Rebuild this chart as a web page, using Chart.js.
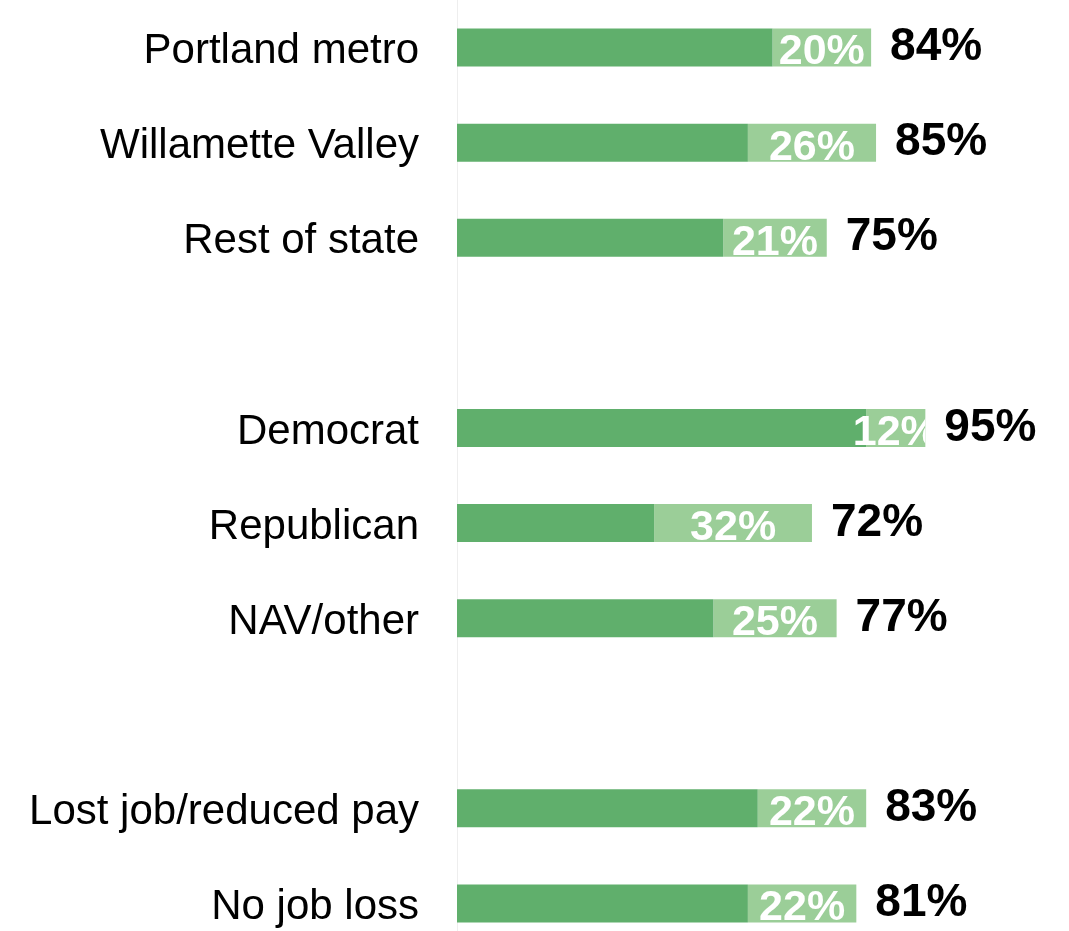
<!DOCTYPE html>
<html>
<head>
<meta charset="utf-8">
<script src="https://cdn.jsdelivr.net/npm/chart.js@4.4.0/dist/chart.umd.min.js"></script>
<style>
  html, body { margin: 0; padding: 0; background: #fff; overflow: hidden; }
  #wrap { width: 1069px; height: 951px; position: relative; }
</style>
</head>
<body>
<div id="wrap"><canvas id="chart"></canvas></div>
<script>
const categories = ["Portland metro", "Willamette Valley", "Rest of state", "",
    "Democrat", "Republican", "NAV/other", "",
    "Lost job/reduced pay", "No job loss"];
const totals = [84, 85, 75, null, 95, 72, 77, null, 83, 81];
const lightShare = [20, 26, 21, null, 12, 32, 25, null, 22, 22];

const darkShare = totals.map((t, i) => t == null ? null : t - lightShare[i]);

const ctx = document.getElementById("chart").getContext("2d");

const labelPlugin = {
    id: "barLabels",
    afterDatasetsDraw(chart) {
        let c = chart.ctx;
        let metaLight = chart.getDatasetMeta(1);
        metaLight.data.forEach((bar, i) => {
            if (totals[i] == null) return;
            let top = bar.y - bar.height / 2;
            let left = bar.base;
            let right = bar.x;

            // white share label, centered on the light part and clipped to the bar
            c.save();
            c.beginPath();
            c.rect(chart.chartArea.left, top, right - chart.chartArea.left, bar.height);
            c.clip();
            c.fillStyle = "#ffffff";
            c.font = "bold 43px 'Liberation Sans', Arial, sans-serif";
            c.textAlign = "center";
            c.textBaseline = "middle";
            c.fillText(lightShare[i] + "%", (left + right) / 2, bar.y + 5);
            c.restore();

            // total label
            c.save();
            c.fillStyle = "#000000";
            c.font = "bold 46px 'Liberation Sans', Arial, sans-serif";
            c.textAlign = "left";
            c.textBaseline = "middle";
            c.fillText(totals[i] + "%", right + 19, bar.y);
            c.restore();
        });
    }
};

new Chart(ctx, {
    type: "bar",
    data: {
        labels: categories,
        datasets: [
            { data: darkShare, backgroundColor: "#60af6c", barPercentage: 0.4, categoryPercentage: 1 },
            { data: lightShare, backgroundColor: "#9bce98", barPercentage: 0.4, categoryPercentage: 1 }
        ]
    },
    options: {
        indexAxis: "y",
        responsive: true,
        maintainAspectRatio: false,
        animation: false,
        layout: { padding: { left: 0, right: 119, top: 0, bottom: 0 } },
        plugins: { legend: { display: false }, tooltip: { enabled: false } },
        scales: {
            x: { stacked: true, min: 0, max: 100, display: false },
            y: {
                stacked: true,
                grid: { display: false },
                border: { display: true, color: "#eeeeee", width: 1 },
                ticks: {
                    color: "#000000",
                    padding: 30,
                    labelOffset: 4,
                    font: { family: "'Liberation Sans', Arial, sans-serif", size: 42 }
                },
                afterFit(scale) {
                    scale.width = 457;
                    scale.paddingTop = 0;
                    scale.paddingBottom = 0;
                }
            }
        }
    },
    plugins: [labelPlugin]
});
</script>
</body>
</html>
